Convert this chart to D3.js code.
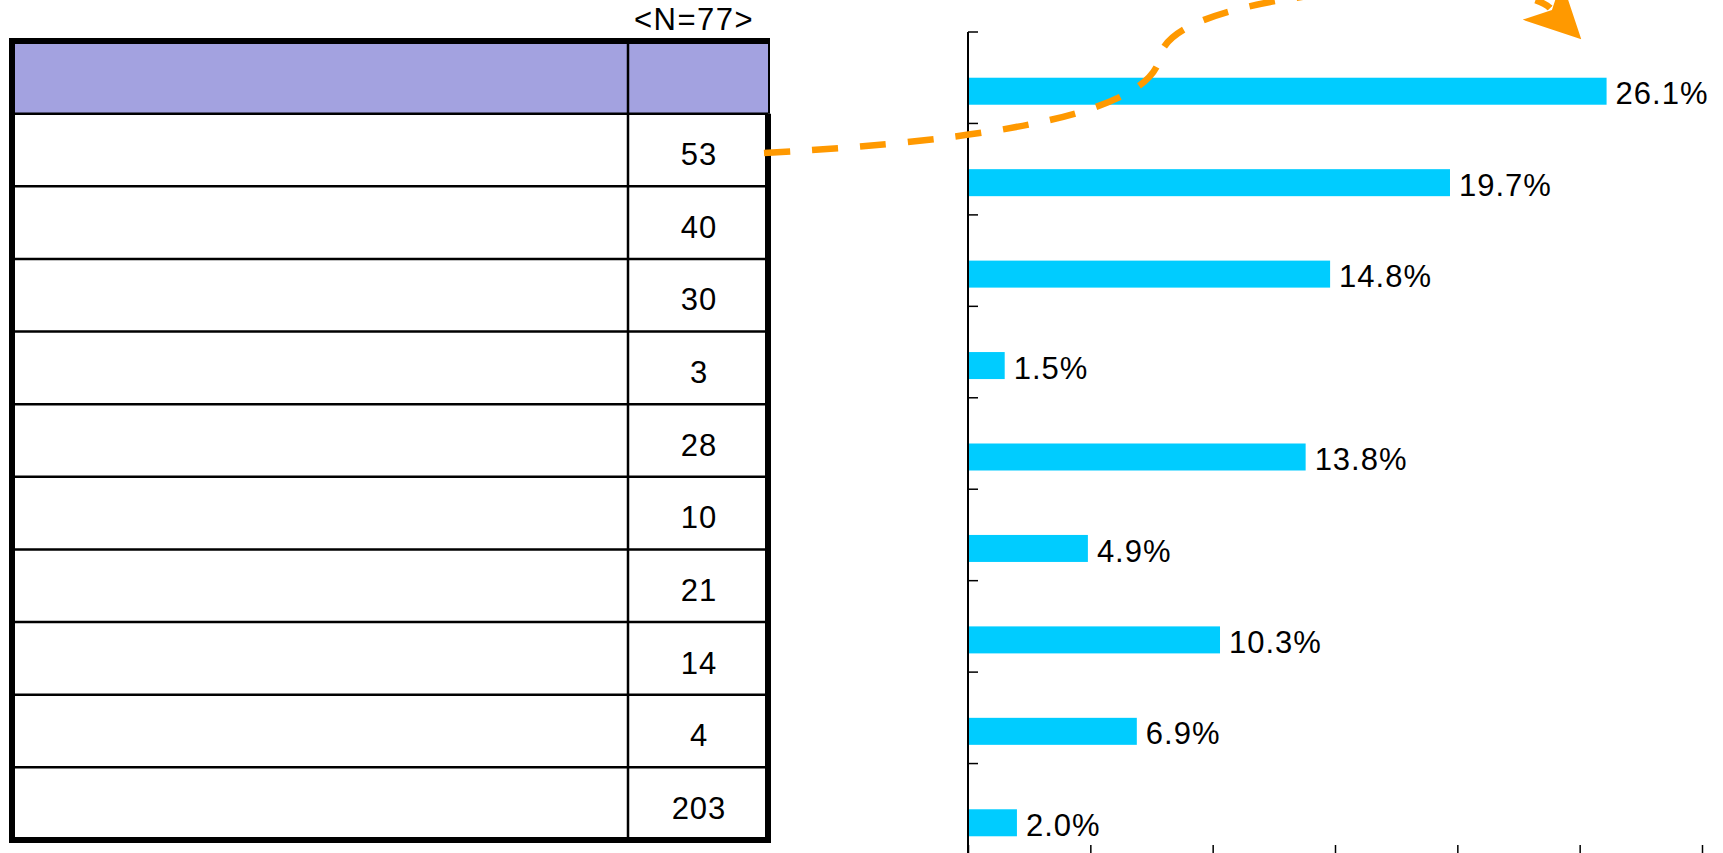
<!DOCTYPE html>
<html>
<head>
    <title>Table and bar chart</title>
    <script src="https://d3js.org/d3.v7.min.js"></script>
    <style>
        body { margin: 0; background: #fff; }
        text { font-family: "Liberation Sans", Arial, sans-serif; fill: #000; letter-spacing: 1px; }
        .cell { fill: #fff; }
        .head { fill: #a3a2e0; }
        .bar { fill: #00ccff; }
        .axis path, .axis line { stroke: #000; }
    </style>
</head>
<body>
    <div id="chart"></div>
    <script>
        // table: one blank label column, one count column
        const rowKeys = ["r1", "r2", "r3", "r4", "r5", "r6", "r7", "r8", "r9", "total"];
        const counts = [53, 40, 30, 3, 28, 10, 21, 14, 4, 203];
        const sampleLabel = "<N=77>";

        // bar chart: nine categories, share in %
        const barKeys = ["c1", "c2", "c3", "c4", "c5", "c6", "c7", "c8", "c9"];
        const shares = [26.1, 19.7, 14.8, 1.5, 13.8, 4.9, 10.3, 6.9, 2.0];
        const xTicks = [0, 5, 10, 15, 20, 25, 30];

        const width = 1723, height = 853;

        const svg = d3.select("#chart")
            .append("svg")
            .attr("width", width)
            .attr("height", height);

        // ---- table ----
        const tLeft = 12, tRight = 768, tTop = 41, tBottom = 840, tMid = 628;

        const rowY = d3.scaleBand()
            .domain(["head"].concat(rowKeys))
            .range([tTop, tBottom]);

        const table = svg.append("g");

        table.selectAll("rect.row")
            .data(["head"].concat(rowKeys))
            .enter()
            .append("rect")
            .attr("class", d => d === "head" ? "head" : "cell")
            .attr("x", tLeft)
            .attr("y", d => rowY(d))
            .attr("width", tRight - tLeft)
            .attr("height", rowY.bandwidth());

        // inner horizontal lines
        table.selectAll("line.h")
            .data(rowKeys)
            .enter()
            .append("line")
            .attr("x1", tLeft).attr("x2", tRight)
            .attr("y1", d => rowY(d)).attr("y2", d => rowY(d))
            .attr("stroke", "#000")
            .attr("stroke-width", 2.5);

        // column divider
        table.append("line")
            .attr("x1", tMid).attr("x2", tMid)
            .attr("y1", tTop).attr("y2", tBottom)
            .attr("stroke", "#000")
            .attr("stroke-width", 2.5);

        // thin right edge of the header
        table.append("line")
            .attr("x1", tRight + 1).attr("x2", tRight + 1)
            .attr("y1", tTop).attr("y2", rowY(rowKeys[0]))
            .attr("stroke", "#000")
            .attr("stroke-width", 2);

        // thick outer frame (header right side left open)
        table.append("path")
            .attr("d", `M${tRight},${rowY(rowKeys[0])} L${tRight},${tBottom} L${tLeft},${tBottom} L${tLeft},${tTop} L${tRight + 2},${tTop}`)
            .attr("fill", "none")
            .attr("stroke", "#000")
            .attr("stroke-width", 6)
            .attr("stroke-linejoin", "miter");

        table.selectAll("text.count")
            .data(counts)
            .enter()
            .append("text")
            .attr("x", (tMid + tRight) / 2 + 1)
            .attr("y", (d, i) => rowY(rowKeys[i]) + rowY.bandwidth() / 2 + 4)
            .attr("dy", "0.36em")
            .attr("text-anchor", "middle")
            .style("font-size", "31px")
            .text(d => d);

        svg.append("text")
            .attr("x", 694)
            .attr("y", 30)
            .attr("text-anchor", "middle")
            .style("font-size", "31px")
            .style("letter-spacing", "1.5px")
            .text(sampleLabel);

        // ---- bar chart ----
        const x = d3.scaleLinear()
            .domain([0, 30])
            .range([968, 1702]);

        const y = d3.scaleBand()
            .domain(barKeys)
            .range([32, 855]);

        // two slots per category; the values sit in the lower slot
        const slot = d3.scaleBand()
            .domain(["a", "b"])
            .range([y.bandwidth() / 2 - 27, y.bandwidth() / 2 + 27]);

        svg.selectAll("rect.bar")
            .data(shares)
            .enter()
            .append("rect")
            .attr("class", "bar")
            .attr("x", x(0))
            .attr("y", (d, i) => y(barKeys[i]) + slot("b"))
            .attr("width", d => x(d) - x(0))
            .attr("height", slot.bandwidth());

        svg.selectAll("text.val")
            .data(shares)
            .enter()
            .append("text")
            .attr("x", d => x(d) + 9)
            .attr("y", (d, i) => y(barKeys[i]) + slot("b") + slot.bandwidth() / 2 + 2)
            .attr("dy", "0.36em")
            .style("font-size", "31px")
            .text(d => d.toFixed(1) + "%");

        // y axis: line with inward ticks at category boundaries
        const yAxis = svg.append("g").attr("class", "axis");
        yAxis.append("line")
            .attr("x1", x(0)).attr("x2", x(0))
            .attr("y1", 32).attr("y2", 855)
            .attr("stroke-width", 2);
        yAxis.selectAll("line.tick")
            .data(barKeys)
            .enter()
            .append("line")
            .attr("x1", x(0)).attr("x2", x(0) + 10)
            .attr("y1", d => y(d)).attr("y2", d => y(d))
            .attr("stroke-width", 1.5);

        // x axis sits just below the picture, ticks point up
        svg.append("g")
            .attr("class", "axis")
            .attr("transform", "translate(0,855)")
            .call(d3.axisTop(x).tickValues(xTicks).tickSize(10).tickFormat(""))
            .call(g => g.selectAll("line").attr("stroke-width", 1.5));

        // ---- orange dashed arrow from the table to the top bar ----
        svg.append("defs").append("marker")
            .attr("id", "head")
            .attr("viewBox", "0 0 10 10")
            .attr("refX", 2).attr("refY", 5)
            .attr("markerWidth", 8.5).attr("markerHeight", 8.5)
            .attr("markerUnits", "strokeWidth")
            .attr("orient", "auto")
            .append("path")
            .attr("d", "M0,0 L10,5 L0,10 L2.5,5 Z")
            .attr("fill", "#ff9900");

        const p = d3.path();
        p.moveTo(764, 153);
        p.bezierCurveTo(1000, 140, 1150, 112, 1160, 57);
        p.bezierCurveTo(1172, -15, 1515, -28, 1550, 8);

        svg.append("path")
            .attr("d", p.toString())
            .attr("fill", "none")
            .attr("stroke", "#ff9900")
            .attr("stroke-width", 6.5)
            .attr("stroke-dasharray", "26,22");

        // arrowhead drawn separately so it is not dashed
        svg.append("path")
            .attr("d", "M1549,7 L1550,8")
            .attr("fill", "none")
            .attr("stroke", "#ff9900")
            .attr("stroke-width", 6.5)
            .attr("marker-end", "url(#head)");
    </script>
</body>
</html>
